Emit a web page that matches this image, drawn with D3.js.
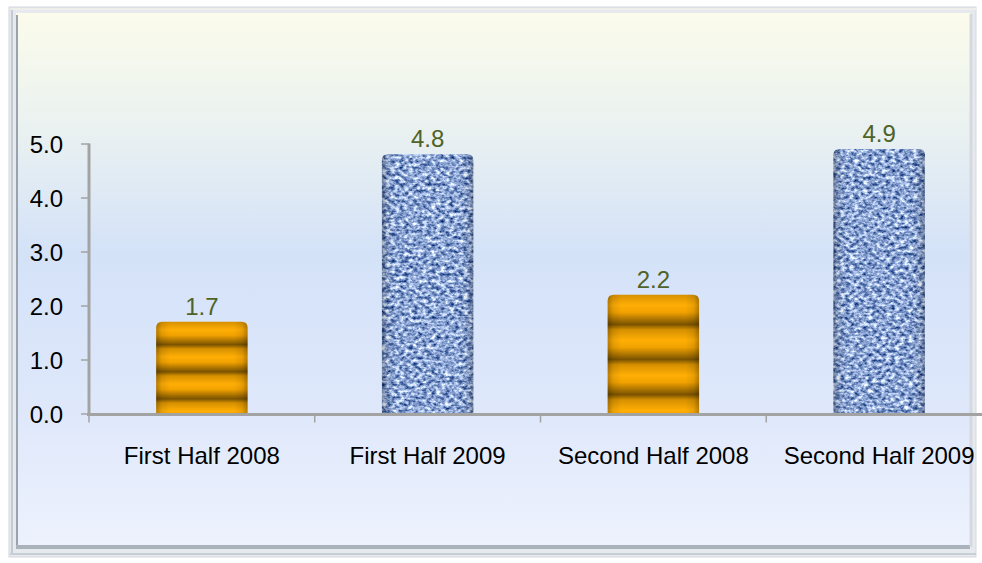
<!DOCTYPE html>
<html>
<head>
<meta charset="utf-8">
<script src="https://cdn.jsdelivr.net/npm/d3@7/dist/d3.min.js"></script>
<style>
  html, body { margin: 0; padding: 0; background: #ffffff; }
  svg { display: block; }
  text { font-family: Arial, "Liberation Sans", sans-serif; }
</style>
</head>
<body>
<svg id="chart" width="982" height="563"></svg>
<script>
// ---- data ----
const categories = ["First Half 2008", "First Half 2009", "Second Half 2008", "Second Half 2009"];
const values = [1.7, 4.8, 2.2, 4.9];
const barStyles = ["stripe", "texture", "stripe", "texture"];
const yTicks = [0, 1, 2, 3, 4, 5];

const W = 982, H = 563;
const svg = d3.select("#chart");
const defs = svg.append("defs");

// background gradient
const bg = defs.append("linearGradient").attr("id", "bg").attr("x1", 0).attr("y1", 0).attr("x2", 0).attr("y2", 1);
[[0, "#fcfbec"], [0.06, "#f6f9ec"], [0.2, "#ebf2f0"], [0.45, "#d4e2f8"], [0.75, "#dfe8fb"], [1, "#edf2fd"]]
  .forEach(([o, c]) => bg.append("stop").attr("offset", o).attr("stop-color", c));

// orange stripes
const st = defs.append("linearGradient").attr("id", "stripes")
  .attr("x1", 0).attr("y1", 0).attr("x2", 0).attr("y2", 0.295).attr("spreadMethod", "repeat");
[[0, "#d69000"], [0.3, "#ffae05"], [0.5, "#f2a200"], [0.85, "#7a5300"], [1, "#d69000"]]
  .forEach(([o, c]) => st.append("stop").attr("offset", o).attr("stop-color", c));

// edge shading overlay
const edge = defs.append("linearGradient").attr("id", "edge").attr("x1", 0).attr("y1", 0).attr("x2", 1).attr("y2", 0);
[[0, "#000", 0.28], [0.06, "#000", 0.08], [0.15, "#000", 0], [0.85, "#000", 0], [0.94, "#000", 0.08], [1, "#000", 0.28]]
  .forEach(([o, c, a]) => edge.append("stop").attr("offset", o).attr("stop-color", c).attr("stop-opacity", a));

// blue texture filter
const f = defs.append("filter").attr("id", "tex").attr("x", 0).attr("y", 0).attr("width", 1).attr("height", 1)
  .attr("color-interpolation-filters", "sRGB");
f.append("feTurbulence").attr("type", "fractalNoise").attr("baseFrequency", "0.22 0.3")
  .attr("numOctaves", 3).attr("seed", 7).attr("result", "n");
f.append("feColorMatrix").attr("in", "n").attr("type", "matrix")
  .attr("values", "1.5 0 0 0 -0.2  1.35 0 0 0 -0.03  1.05 0 0 0 0.3  0 0 0 0 1").attr("result", "c");
f.append("feComposite").attr("in", "c").attr("in2", "SourceGraphic").attr("operator", "in");

// frame
const frame = svg.append("g");
frame.append("rect").attr("x", 9).attr("y", 7).attr("width", 967).attr("height", 550)
  .attr("fill", "#e6e9ee").attr("stroke", "#d4d8de").attr("stroke-width", 1);
frame.append("rect").attr("x", 16).attr("y", 13).attr("width", 954).attr("height", 534)
  .attr("fill", "url(#bg)");
frame.append("line").attr("x1", 17).attr("y1", 15).attr("x2", 17).attr("y2", 546).attr("stroke", "#9aa3ad").attr("stroke-width", 2);
frame.append("line").attr("x1", 12).attr("y1", 10).attr("x2", 12).attr("y2", 553).attr("stroke", "#c3cad3").attr("stroke-width", 2);
frame.append("line").attr("x1", 16).attr("y1", 547).attr("x2", 970).attr("y2", 547).attr("stroke", "#aab2bc").attr("stroke-width", 4);
frame.append("line").attr("x1", 10).attr("y1", 554).attr("x2", 976).attr("y2", 554).attr("stroke", "#c8ced6").attr("stroke-width", 2);
frame.append("line").attr("x1", 971).attr("y1", 14).attr("x2", 971).attr("y2", 547).attr("stroke", "#d5d9df").attr("stroke-width", 3);
frame.append("line").attr("x1", 10).attr("y1", 9).attr("x2", 976).attr("y2", 9).attr("stroke", "#eeeeea").attr("stroke-width", 2);

// scales
const x = d3.scaleBand().domain(categories).range([89, 992]).paddingInner(0.595).paddingOuter(0.2975);
const y = d3.scaleLinear().domain([0, 5]).range([413.5, 143.5]);

function barPath(x0, y0, w, h, r) {
  return `M${x0},${y0 + h}V${y0 + r}Q${x0},${y0} ${x0 + r},${y0}H${x0 + w - r}Q${x0 + w},${y0} ${x0 + w},${y0 + r}V${y0 + h}Z`;
}

const data = categories.map((c, i) => ({ c, v: values[i], s: barStyles[i] }));
const bars = svg.append("g");
data.forEach(d => {
  const bx = x(d.c), bw = x.bandwidth(), by = y(d.v), bh = y(0) - y(d.v);
  const p = barPath(bx, by, bw, bh, 6);
  if (d.s === "stripe") {
    bars.append("path").attr("d", p).attr("fill", "url(#stripes)");
  } else {
    bars.append("path").attr("d", p).attr("fill", "#5b7fbf").attr("filter", "url(#tex)");
  }
  bars.append("path").attr("d", p).attr("fill", "url(#edge)");
});

// axes
const axisColor = "#a3a3a3";
const yAxis = svg.append("g").attr("transform", "translate(89,0)")
  .call(d3.axisLeft(y).tickValues(yTicks).tickFormat(d3.format(".1f")).tickSize(8).tickPadding(18));
yAxis.select(".domain").attr("stroke", axisColor).attr("stroke-width", 3).attr("d", `M0,${y(5)}V${y(0)}`);
yAxis.selectAll(".tick line").attr("stroke", axisColor).attr("stroke-width", 1.5);
yAxis.selectAll(".tick text").attr("font-size", 24).attr("fill", "#000").attr("dy", "0.36em")
  .attr("font-family", "Arial, 'Liberation Sans', sans-serif");

const xb = d3.scalePoint().domain(d3.range(5)).range([89, 992]);
const xAxisG = svg.append("g").attr("transform", `translate(0,${y(0) + 1})`);
xAxisG.append("line").attr("x1", 87).attr("x2", 992).attr("stroke", axisColor).attr("stroke-width", 3);
xAxisG.selectAll("line.t").data(d3.range(4)).join("line").attr("class", "t")
  .attr("x1", d => xb(d)).attr("x2", d => xb(d)).attr("y1", 0).attr("y2", 8)
  .attr("stroke", axisColor).attr("stroke-width", 1.5);

svg.append("g").selectAll("text").data(categories).join("text")
  .attr("x", d => x(d) + x.bandwidth() / 2).attr("y", 464)
  .attr("text-anchor", "middle").attr("font-size", 24).attr("fill", "#000").text(d => d);

// value labels
svg.append("g").selectAll("text").data(data).join("text")
  .attr("x", d => x(d.c) + x.bandwidth() / 2).attr("y", d => y(d.v) - 7)
  .attr("text-anchor", "middle").attr("font-size", 24).attr("fill", "#4f6228")
  .text(d => d3.format(".1f")(d.v));
</script>
</body>
</html>
